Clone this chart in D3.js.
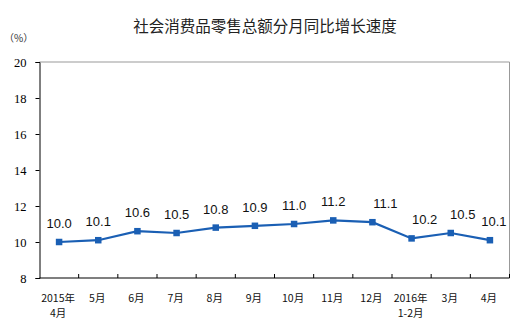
<!DOCTYPE html>
<html>
<head>
<meta charset="utf-8">
<script src="https://cdn.jsdelivr.net/npm/d3@7"></script>
<style>
  html, body { margin: 0; padding: 0; background: #fff; }
  svg { display: block; }
</style>
</head>
<body>
<svg id="chart" width="532" height="326"></svg>
<script>
// Monthly year-on-year growth of retail sales of consumer goods (%)
const months = ["2015年\n4月", "5月", "6月", "7月", "8月", "9月", "10月", "11月", "12月", "2016年\n1-2月", "3月", "4月"];
const growth = [10.0, 10.1, 10.6, 10.5, 10.8, 10.9, 11.0, 11.2, 11.1, 10.2, 10.5, 10.1];
const yTicks = [8, 10, 12, 14, 16, 18, 20];
// horizontal nudge of each value label, in px
const labelNudge = [0, 0, 0, 0, 0, 0, 0, 0, 13, 13, 12, 4];

const W = 532, H = 326;
const m = { left: 39.5, right: 22.5, top: 62, bottom: 48 };
const svg = d3.select("#chart");

const x = d3.scaleBand().domain(months).range([m.left, W - m.right]);
const y = d3.scaleLinear().domain([8, 20]).range([H - m.bottom, m.top]);

// title
svg.append("text")
  .attr("x", 265).attr("y", 32)
  .attr("text-anchor", "middle")
  .style("font-family", "'Noto Sans CJK SC', sans-serif")
  .style("font-size", "15.5px")
  .style("fill", "#222")
  .text("社会消费品零售总额分月同比增长速度");

// unit
svg.append("text")
  .attr("x", 4).attr("y", 42)
  .style("font-family", "'Noto Sans CJK SC', sans-serif")
  .style("font-size", "10px")
  .style("fill", "#333")
  .text("（%）");

// grey frame on top and right
svg.append("path")
  .attr("d", `M${m.left},${m.top}H${W - m.right}V${H - m.bottom}`)
  .attr("fill", "none")
  .attr("stroke", "#999")
  .attr("stroke-width", 1);

// y axis
const yAxis = svg.append("g")
  .attr("transform", `translate(${m.left},0)`)
  .call(d3.axisLeft(y).tickValues(yTicks).tickSize(4).tickPadding(9).tickFormat(d3.format("d")));
yAxis.select(".domain").attr("stroke", "#000");
yAxis.selectAll(".tick line").attr("stroke", "#000");
yAxis.selectAll("text")
  .style("font-family", "'Liberation Serif', 'Times New Roman', serif")
  .style("font-size", "12.5px")
  .style("fill", "#000");

// x axis: ticks sit at band boundaries, pointing up
const xg = svg.append("g").attr("transform", `translate(0,${H - m.bottom})`);
xg.append("line")
  .attr("x1", m.left).attr("x2", W - m.right)
  .attr("stroke", "#000").attr("stroke-width", 1.2);
xg.selectAll(".tk").data(months)
  .join("line")
  .attr("class", "tk")
  .attr("x1", d => x(d) + x.bandwidth())
  .attr("x2", d => x(d) + x.bandwidth())
  .attr("y1", 0).attr("y2", -4)
  .attr("stroke", "#000");
xg.selectAll(".lbl").data(months)
  .join("text")
  .attr("class", "lbl")
  .attr("text-anchor", "middle")
  .style("font-family", "'Noto Sans CJK SC', sans-serif")
  .style("font-size", "10.5px")
  .style("fill", "#111")
  .each(function (d) {
    const t = d3.select(this);
    d.split("\n").forEach((s, i) => {
      t.append("tspan")
        .attr("x", x(d) + x.bandwidth() / 2 - 1)
        .attr("y", 23.5 + i * 15.5)
        .text(s);
    });
  });

// series line
const cx = (d, i) => x(months[i]) + x.bandwidth() / 2;
const blue = "#1a5fb4";
svg.append("path")
  .datum(growth)
  .attr("fill", "none")
  .attr("stroke", blue)
  .attr("stroke-width", 2.2)
  .attr("d", d3.line().x(cx).y(d => y(d)));

// markers
const s = 6.5;
svg.selectAll(".pt").data(growth)
  .join("rect")
  .attr("class", "pt")
  .attr("x", (d, i) => cx(d, i) - s / 2)
  .attr("y", d => y(d) - s / 2)
  .attr("width", s).attr("height", s)
  .attr("fill", blue);

// value labels
svg.selectAll(".val").data(growth)
  .join("text")
  .attr("class", "val")
  .attr("x", (d, i) => cx(d, i) + labelNudge[i])
  .attr("y", d => y(d) - 14)
  .attr("text-anchor", "middle")
  .style("font-family", "'Liberation Sans', Arial, sans-serif")
  .style("font-size", "13px")
  .style("fill", "#111")
  .text(d => d.toFixed(1));
</script>
</body>
</html>
